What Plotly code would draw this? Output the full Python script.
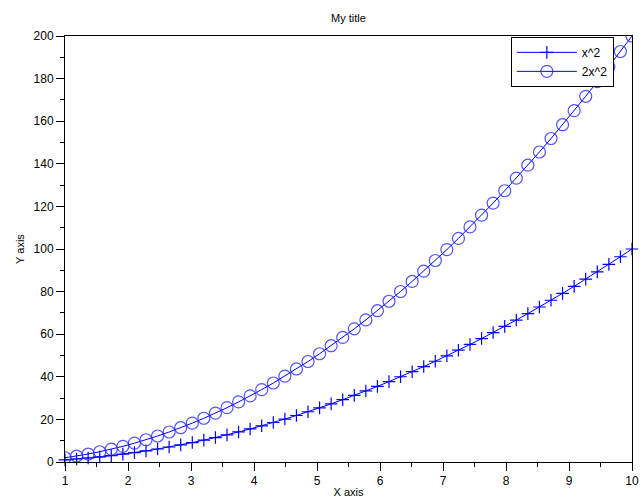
import plotly.graph_objects as go

x_vals = [1.0, 1.18367, 1.36735, 1.55102, 1.73469, 1.91837, 2.10204, 2.28571, 2.46939, 2.65306,
          2.83673, 3.02041, 3.20408, 3.38776, 3.57143, 3.75510, 3.93878, 4.12245, 4.30612, 4.48980,
          4.67347, 4.85714, 5.04082, 5.22449, 5.40816, 5.59184, 5.77551, 5.95918, 6.14286, 6.32653,
          6.51020, 6.69388, 6.87755, 7.06122, 7.24490, 7.42857, 7.61224, 7.79592, 7.97959, 8.16327,
          8.34694, 8.53061, 8.71429, 8.89796, 9.08163, 9.26531, 9.44898, 9.63265, 9.81633, 10.0]

y_sq = [1.0, 1.4011, 1.8696, 2.4057, 3.0091, 3.6801, 4.4186, 5.2245, 6.0979, 7.0387,
        8.0470, 9.1229, 10.2661, 11.4769, 12.7551, 14.1008, 15.5140, 16.9946, 18.5427, 20.1583,
        21.8413, 23.5918, 25.4098, 27.2953, 29.2482, 31.2687, 33.3565, 35.5119, 37.7347, 40.0250,
        42.3828, 44.8080, 47.3007, 49.8609, 52.4885, 55.1837, 57.9463, 60.7763, 63.6739, 66.6389,
        69.6714, 72.7714, 75.9388, 79.1737, 82.4761, 85.8459, 89.2832, 92.7880, 96.3603, 100.0]

y_2sq = [2.0, 2.8022, 3.7392, 4.8114, 6.0182, 7.3602, 8.8372, 10.4490, 12.1958, 14.0774,
         16.0940, 18.2458, 20.5322, 22.9538, 25.5102, 28.2016, 31.0280, 33.9892, 37.0854, 40.3166,
         43.6826, 47.1836, 50.8196, 54.5906, 58.4964, 62.5374, 66.7130, 71.0238, 75.4694, 80.0500,
         84.7656, 89.6160, 94.6014, 99.7218, 104.9770, 110.3674, 115.8926, 121.5526, 127.3478, 133.2778,
         139.3428, 145.5428, 151.8776, 158.3474, 164.9522, 171.6918, 178.5664, 185.5760, 192.7206, 200.0]

names = ["x^2", "2x^2"]
x_ticks = [1, 2, 3, 4, 5, 6, 7, 8, 9, 10]
y_ticks = [0, 20, 40, 60, 80, 100, 120, 140, 160, 180, 200]

FONT = "Liberation Sans, Arial, sans-serif"
BLUE = "#0000ff"

fig = go.Figure()
fig.add_trace(go.Scatter(
    x=x_vals, y=y_sq, name=names[0], mode="lines+markers",
    line=dict(color=BLUE, width=1),
    marker=dict(symbol="cross-thin-open", size=9, color=BLUE, line=dict(color=BLUE, width=1.2)),
    cliponaxis=False,
))
fig.add_trace(go.Scatter(
    x=x_vals, y=y_2sq, name=names[1], mode="lines+markers",
    line=dict(color=BLUE, width=1),
    marker=dict(symbol="circle-open", size=12, color="rgba(40,40,255,0.8)",
                line=dict(color="rgba(40,40,255,0.8)", width=1.2)),
))

axis_common = dict(
    showgrid=False, zeroline=False, showline=True, linecolor="black", linewidth=1,
    mirror=True, ticks="outside", ticklen=8, tickcolor="black", tickwidth=1,
    tickfont=dict(family=FONT, size=12, color="black"), automargin=False,
)

fig.update_layout(
    width=640, height=498,
    margin=dict(l=65, r=8, t=36, b=36, autoexpand=False),
    paper_bgcolor="white", plot_bgcolor="white",
    title=dict(text="My title", x=0.5, xref="paper", xanchor="center",
               y=0.964, yref="container", yanchor="middle",
               font=dict(family=FONT, size=11, color="black")),
    xaxis=dict(range=[1, 10], tickvals=x_ticks, ticktext=[str(v) for v in x_ticks],
               title=dict(text="X axis", standoff=2, font=dict(family=FONT, size=11, color="black")),
               minor=dict(ticks="outside", ticklen=4, dtick=0.5, tick0=1, tickcolor="black"),
               **axis_common),
    yaxis=dict(range=[0, 200], tickvals=y_ticks, ticktext=[str(v) for v in y_ticks],
               title=dict(text="Y axis", standoff=6, font=dict(family=FONT, size=11, color="black")),
               minor=dict(ticks="outside", ticklen=4, dtick=10, tick0=0, tickcolor="black"),
               **axis_common),
    showlegend=True,
    legend=dict(x=0.968, y=0.998, xanchor="right", yanchor="top",
                bgcolor="white", bordercolor="black", borderwidth=1,
                font=dict(family=FONT, size=12, color="black"),
                tracegroupgap=0, itemwidth=60),
)

fig.write_html("out.html")
